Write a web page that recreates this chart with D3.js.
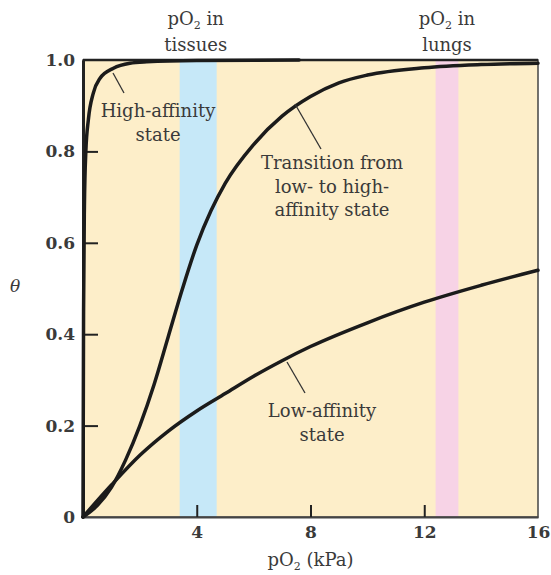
<!DOCTYPE html>
<html>
<head>
<meta charset="utf-8">
<script src="https://cdn.jsdelivr.net/npm/d3@7"></script>
<style>
  body { margin: 0; background: #fff; }
  text { font-family: "DejaVu Serif", "Liberation Serif", serif; fill: #3a3a3a; }
</style>
</head>
<body>
<div id="chart"></div>
<script>
// values (pO2 in kPa, theta = fractional saturation)
const highP     = [0, 0.02, 0.05, 0.1, 0.19, 0.36, 0.6, 1.07, 1.65, 2.24, 4, 7.6];
const highTheta = [0, 0.45, 0.68, 0.8, 0.87, 0.927, 0.96, 0.982, 0.993, 0.996, 0.999, 1.0];

const transP     = [0, 0.5, 1, 1.5, 2, 2.5, 3, 3.5, 4, 4.5, 5, 6, 7, 8, 9, 10, 12, 14, 16];
const transTheta = [0, 0.025, 0.065, 0.125, 0.2, 0.29, 0.395, 0.5, 0.595, 0.67, 0.73, 0.815, 0.877, 0.92, 0.95, 0.967, 0.983, 0.99, 0.993];

const lowP     = [0, 1, 2, 3, 4, 5, 6, 7, 8, 10, 12, 14, 16];
const lowTheta = [0, 0.07, 0.135, 0.188, 0.232, 0.27, 0.308, 0.342, 0.373, 0.425, 0.47, 0.507, 0.54];

const tissueBand = [3.4, 4.7];
const lungBand = [12.4, 13.2];

const xTicks = [4, 8, 12, 16];
const yTicks = [0, 0.2, 0.4, 0.6, 0.8, 1.0];
const yTickLabels = ['0', '0.2', '0.4', '0.6', '0.8', '1.0'];

var width = 551, height = 575;
var margin = {top: 60, right: 13, bottom: 58, left: 83};

var svg = d3.select('#chart').append('svg')
  .attr('width', width)
  .attr('height', height);

var x = d3.scaleLinear().domain([0, 16]).range([margin.left, width - margin.right]);
var y = d3.scaleLinear().domain([0, 1]).range([height - margin.bottom, margin.top]);

// background
svg.append('rect')
  .attr('x', x(0)).attr('y', y(1))
  .attr('width', x(16) - x(0)).attr('height', y(0) - y(1))
  .attr('fill', '#fdeec9');

// pO2 bands
const bands = [{r: tissueBand, c: '#c6e8f8'}, {r: lungBand, c: '#f7d3e6'}];
svg.selectAll('rect.band')
  .data(bands)
  .join('rect')
    .attr('class', 'band')
    .attr('x', d => x(d.r[0]))
    .attr('y', y(1))
    .attr('width', d => x(d.r[1]) - x(d.r[0]))
    .attr('height', y(0) - y(1))
    .attr('fill', d => d.c);

// frame
svg.append('rect')
  .attr('x', x(0)).attr('y', y(1))
  .attr('width', x(16) - x(0)).attr('height', y(0) - y(1))
  .attr('fill', 'none')
  .attr('stroke', '#444')
  .attr('stroke-width', 1.5);
svg.append('line')
  .attr('x1', x(0)).attr('x2', x(16))
  .attr('y1', y(1)).attr('y2', y(1))
  .attr('stroke', '#222')
  .attr('stroke-width', 2.5);

// axes
var yAxis = d3.axisLeft(y)
  .tickValues(yTicks)
  .tickFormat((d, i) => yTickLabels[i])
  .tickSizeInner(-15)
  .tickSizeOuter(0)
  .tickPadding(8);

var gy = svg.append('g')
  .attr('transform', `translate(${x(0)},0)`)
  .call(yAxis);
gy.select('.domain').attr('stroke', '#222').attr('stroke-width', 3);
gy.selectAll('.tick line').attr('stroke', '#222').attr('stroke-width', 2)
  .filter(d => d === 0 || d === 1).remove();
gy.selectAll('.tick text')
  .style('font-size', '17px').style('font-weight', 'bold').attr('fill', '#555');

var xAxis = d3.axisBottom(x)
  .tickValues(xTicks)
  .tickSizeInner(-12)
  .tickSizeOuter(0)
  .tickPadding(9);

var gx = svg.append('g')
  .attr('transform', `translate(0,${y(0)})`)
  .call(xAxis);
gx.select('.domain').attr('stroke', '#444').attr('stroke-width', 2);
gx.selectAll('.tick line').attr('stroke', '#222').attr('stroke-width', 2)
  .filter(d => d === 16).remove();
gx.selectAll('.tick text')
  .style('font-size', '17px').style('font-weight', 'bold').attr('fill', '#555');

// curves
const line = d3.line()
  .x(d => x(d[0]))
  .y(d => y(d[1]))
  .curve(d3.curveMonotoneX);

const curves = [
  d3.zip(lowP, lowTheta),
  d3.zip(transP, transTheta),
  d3.zip(highP, highTheta)
];

svg.append('g')
  .selectAll('path')
  .data(curves)
  .join('path')
    .attr('d', line)
    .attr('fill', 'none')
    .attr('stroke', '#1b1b1b')
    .attr('stroke-width', 3.5)
    .attr('stroke-linecap', 'round');

// pointer lines
const pointers = [
  [113, 73, 124, 93],
  [295, 104, 321, 149],
  [287, 362, 305, 393]
];
svg.selectAll('line.ptr')
  .data(pointers)
  .join('line')
    .attr('class', 'ptr')
    .attr('x1', d => d[0]).attr('y1', d => d[1])
    .attr('x2', d => d[2]).attr('y2', d => d[3])
    .attr('stroke', '#333')
    .attr('stroke-width', 1.3);

// annotation text
const notes = [
  {x: 158, y: 117, lines: ['High-affinity', 'state']},
  {x: 332, y: 169, lines: ['Transition from', 'low- to high-', 'affinity state']},
  {x: 322, y: 417, lines: ['Low-affinity', 'state']}
];
notes.forEach(n => {
  var t = svg.append('text')
    .attr('text-anchor', 'middle')
    .style('font-size', '18px');
  n.lines.forEach((s, i) => {
    t.append('tspan').attr('x', n.x).attr('y', n.y + i * 23.5).text(s);
  });
});

// pO2 band labels
function pO2(sel, shift) {
  sel.append('tspan').text('pO');
  sel.append('tspan').attr('dy', shift).style('font-size', '11px').text('2');
  return sel;
}

const bandLabels = [
  {x: x(4) - 1, second: 'tissues'},
  {x: (x(lungBand[0]) + x(lungBand[1])) / 2, second: 'lungs'}
];
bandLabels.forEach(b => {
  var t1 = svg.append('text')
    .attr('x', b.x).attr('y', 25)
    .attr('text-anchor', 'middle')
    .style('font-size', '18px');
  pO2(t1, 4);
  t1.append('tspan').attr('dy', -4).text(' in');
  svg.append('text')
    .attr('x', b.x).attr('y', 51)
    .attr('text-anchor', 'middle')
    .style('font-size', '18px')
    .text(b.second);
});

// axis titles
var xt = svg.append('text')
  .attr('x', x(8)).attr('y', 566)
  .attr('text-anchor', 'middle')
  .style('font-size', '18px');
pO2(xt, 4);
xt.append('tspan').attr('dy', -4).text(' (kPa)');

svg.append('text')
  .attr('x', 15).attr('y', 292)
  .attr('text-anchor', 'middle')
  .style('font-size', '17px')
  .style('font-style', 'italic')
  .text('θ');
</script>
</body>
</html>
